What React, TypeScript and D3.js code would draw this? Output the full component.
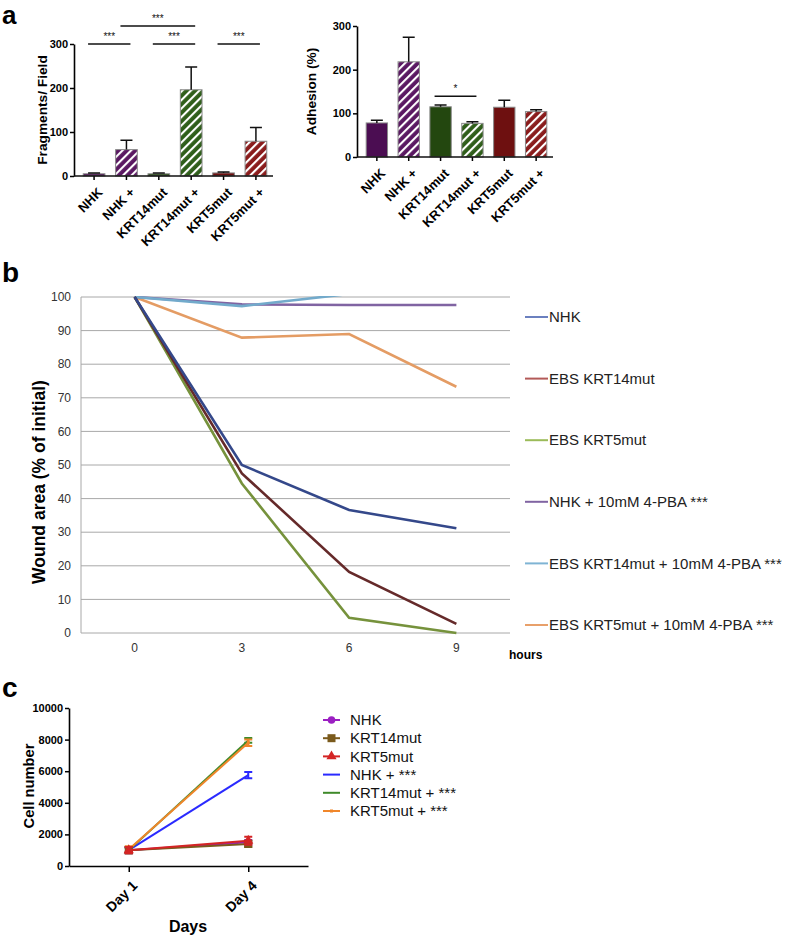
import React, { useRef, useEffect } from 'react';
import * as d3 from 'd3';

const FONT = '"Liberation Sans", Arial, Helvetica, sans-serif';

// ---- panel a: bar charts
const groups = ['NHK', 'NHK +', 'KRT14mut', 'KRT14mut +', 'KRT5mut', 'KRT5mut +'];
const fragments = [5, 60, 5, 196, 7, 79];
const fragmentsErr = [2, 21, 2, 52, 2, 31];
const adhesion = [78, 218, 115, 77, 114, 104];
const adhesionErr = [6, 56, 4, 4, 16, 4];
const barTicks = [0, 100, 200, 300];

// ---- panel b: wound closure
const hours = ['0', '3', '6', '9'];
const woundNames = ['NHK', 'EBS KRT14mut', 'EBS KRT5mut', 'NHK + 10mM 4-PBA ***', 'EBS KRT14mut + 10mM 4-PBA ***', 'EBS KRT5mut + 10mM 4-PBA ***'];
const woundNHK = [100, 50, 36.6, 31.2];
const woundKRT14 = [100, 47.5, 18.2, 2.7];
const woundKRT5 = [100, 44.5, 4.5, 0];
const woundNHKPBA = [100, 97.8, 97.6, 97.6];
const woundKRT14PBA = [100, 97.3, 100.9, 100.9];
const woundKRT5PBA = [100, 87.9, 89, 73.3];
const woundTicks = [0, 10, 20, 30, 40, 50, 60, 70, 80, 90, 100];

// ---- panel c: proliferation
const days = ['Day 1', 'Day 4'];
const cellNames = ['NHK', 'KRT14mut', 'KRT5mut', 'NHK + ***', 'KRT14mut + ***', 'KRT5mut + ***'];
const cellNHK = [1000, 1500];
const cellKRT14 = [1000, 1400];
const cellKRT5 = [1000, 1600];
const cellNHKPlus = [1000, 5750];
const cellKRT14Plus = [1000, 7950];
const cellKRT5Plus = [1050, 7800];
const cellErr = [[200, 150], [200, 200], [200, 250], [150, 200], [150, 150], [200, 200]];
const cellTicks = [0, 2000, 4000, 6000, 8000, 10000];

const barColors = ['#4b0d52', '#5a1862', '#23470f', '#2f5e1a', '#6e1010', '#8a1c1c'];
const woundColors = ['#34488a', '#652a2a', '#76923c', '#8064a2', '#72aacb', '#e49c64'];
const woundLegendColors = ['#6b80bf', '#b35a58', '#9bbb59', '#8064a2', '#7fb4d4', '#e8a06a'];
const cellColors = ['#9b1fc2', '#7a5a1c', '#d42424', '#2a2aff', '#3f8a2a', '#f0862a'];

export default function App() {
  const ref = useRef<SVGSVGElement>(null);

  useEffect(() => {
    const svg = d3.select(ref.current);
    svg.selectAll('*').remove();
    const defs = svg.append('defs');

    // hatch patterns for the "+" bars
    barColors.forEach((c, i) => {
      const p = defs.append('pattern')
        .attr('id', 'hatch' + i)
        .attr('patternUnits', 'userSpaceOnUse')
        .attr('width', 6).attr('height', 6)
        .attr('patternTransform', 'rotate(45)');
      p.append('rect').attr('width', 6).attr('height', 6).attr('fill', c);
      p.append('line').attr('x1', 1).attr('y1', 0).attr('x2', 1).attr('y2', 6)
        .attr('stroke', 'white').attr('stroke-width', 2.2);
    });

    const panelLabel = (t, x, y, size = 28) => svg.append('text')
      .attr('x', x).attr('y', y).attr('font-family', FONT).attr('font-weight', 'bold')
      .attr('font-size', size).text(t);

    // ---------- panel a
    const barPanel = (values, errs, left, right, top, bottom, title, titleX) => {
      const x = d3.scaleBand().domain(groups).range([left + 6, right - 3]).paddingInner(0.33).paddingOuter(0.1);
      const y = d3.scaleLinear().domain([0, 300]).range([bottom, top]);
      const g = svg.append('g');

      g.selectAll('rect.bar').data(groups).join('rect')
        .attr('x', d => x(d))
        .attr('width', x.bandwidth())
        .attr('y', (d, i) => y(values[i]))
        .attr('height', (d, i) => bottom - y(values[i]))
        .attr('fill', (d, i) => (i % 2 ? `url(#hatch${i})` : barColors[i]))
        .attr('stroke', '#8a8a8a').attr('stroke-width', 1);

      // error bars (upper only)
      g.selectAll('path.err').data(groups).join('path')
        .attr('d', (d, i) => {
          const cx = x(d) + x.bandwidth() / 2;
          const y0 = y(values[i]), y1 = y(values[i] + errs[i]);
          return `M${cx},${y0}V${y1}M${cx - 6},${y1}H${cx + 6}`;
        })
        .attr('stroke', '#111').attr('stroke-width', 1.5).attr('fill', 'none');

      const ya = g.append('g').attr('transform', `translate(${left},0)`)
        .call(d3.axisLeft(y).tickValues(barTicks).tickSizeInner(4).tickSizeOuter(0).tickPadding(2));
      ya.select('.domain').attr('stroke-width', 1.6);
      ya.selectAll('.tick line').attr('stroke-width', 1.5);
      ya.selectAll('.tick text').attr('font-family', FONT).attr('font-weight', 'bold').attr('font-size', 11);

      const xa = g.append('g').attr('transform', `translate(0,${bottom})`)
        .call(d3.axisBottom(x).tickSizeInner(4).tickSizeOuter(0));
      xa.select('.domain').remove();
      xa.selectAll('.tick line').attr('stroke-width', 1.5);
      xa.selectAll('.tick text').remove();
      g.append('line').attr('x1', left).attr('x2', right).attr('y1', bottom).attr('y2', bottom)
        .attr('stroke', '#111').attr('stroke-width', 1.6);

      g.selectAll('text.xl').data(groups).join('text')
        .attr('transform', d => `translate(${x(d) + x.bandwidth() / 2 + 6},${bottom + 14}) rotate(-45)`)
        .attr('text-anchor', 'end').attr('dy', '0.35em')
        .attr('font-family', FONT).attr('font-weight', 'bold').attr('font-size', 13)
        .text(d => d);

      g.append('text')
        .attr('transform', `translate(${titleX},${(top + bottom) / 2}) rotate(-90)`)
        .attr('text-anchor', 'middle').attr('font-family', FONT).attr('font-weight', 'bold')
        .attr('font-size', 13.7).text(title);
      return { x, y, g };
    };

    panelLabel('a', 2, 24, 26);
    const left = barPanel(fragments, fragmentsErr, 74, 273, 44, 176, 'Fragments/ Field', 47);
    const right = barPanel(adhesion, adhesionErr, 357, 553, 26, 157, 'Adhesion (%)', 316);

    const mid = (p, d) => p.x(d) + p.x.bandwidth() / 2;
    const sig = (p, a, b, yy, label) => {
      const x1 = mid(p, a) - 6, x2 = mid(p, b) + 4;
      p.g.append('line').attr('x1', x1).attr('x2', x2).attr('y1', yy).attr('y2', yy)
        .attr('stroke', '#111').attr('stroke-width', 1.6);
      p.g.append('text').attr('x', (x1 + x2) / 2).attr('y', yy - 4).attr('text-anchor', 'middle')
        .attr('font-family', FONT).attr('font-size', 10).attr('fill', '#111').text(label);
    };
    sig(left, 'NHK', 'NHK +', left.y(300), '***');
    sig(left, 'KRT14mut', 'KRT14mut +', left.y(300), '***');
    sig(left, 'KRT5mut', 'KRT5mut +', left.y(300), '***');
    sig(left, 'NHK +', 'KRT14mut +', 26, '***');
    sig(right, 'KRT14mut', 'KRT14mut +', right.y(139), '*');

    // ---------- panel b
    panelLabel('b', 2, 282);
    const bx = d3.scaleBand().domain(hours).range([81, 510]);
    const by = d3.scaleLinear().domain([0, 100]).range([633, 297]);
    const gb = svg.append('g');
    gb.selectAll('line.grid').data(woundTicks).join('line')
      .attr('x1', 81).attr('x2', 510).attr('y1', d => by(d)).attr('y2', d => by(d))
      .attr('stroke', '#a8a8a8').attr('stroke-width', 1);
    gb.append('line').attr('x1', 81).attr('x2', 81).attr('y1', by(100)).attr('y2', by(0))
      .attr('stroke', '#a8a8a8');
    gb.selectAll('text.yt').data(woundTicks).join('text')
      .attr('x', 71).attr('y', d => by(d)).attr('dy', '0.35em').attr('text-anchor', 'end')
      .attr('font-family', FONT).attr('font-size', 12).attr('fill', '#333').text(d => d);
    gb.selectAll('text.xt').data(hours).join('text')
      .attr('x', d => bx(d) + bx.bandwidth() / 2).attr('y', 652).attr('text-anchor', 'middle')
      .attr('font-family', FONT).attr('font-size', 12).attr('fill', '#333').text(d => d);
    gb.append('text').attr('x', 509).attr('y', 659).attr('font-family', FONT).attr('font-weight', 'bold')
      .attr('font-size', 12).text('hours');
    gb.append('text').attr('transform', 'translate(45,482) rotate(-90)').attr('text-anchor', 'middle')
      .attr('font-family', FONT).attr('font-weight', 'bold').attr('font-size', 17.5).text('Wound area (% of initial)');

    defs.append('clipPath').attr('id', 'clipb').append('rect')
      .attr('x', 81).attr('y', by(100) - 1).attr('width', 429).attr('height', by(0) - by(100) + 3);
    const woundSeries = [woundNHK, woundKRT14, woundKRT5, woundNHKPBA, woundKRT14PBA, woundKRT5PBA];
    const line = d3.line<number>().x((d, i) => bx(hours[i]) + bx.bandwidth() / 2).y(d => by(d));
    const drawOrder = [5, 3, 4, 2, 1, 0];
    drawOrder.forEach(i => {
      gb.append('path').attr('d', line(woundSeries[i])).attr('fill', 'none')
        .attr('stroke', woundColors[i]).attr('stroke-width', 2.6).attr('clip-path', 'url(#clipb)');
    });
    woundNames.forEach((n, i) => {
      const yy = 317 + i * 61.6;
      gb.append('line').attr('x1', 525).attr('x2', 548).attr('y1', yy).attr('y2', yy)
        .attr('stroke', woundLegendColors[i]).attr('stroke-width', 2);
      gb.append('text').attr('x', 549).attr('y', yy).attr('dy', '0.35em')
        .attr('font-family', FONT).attr('font-size', 15).attr('fill', '#222').text(n);
    });

    // ---------- panel c
    panelLabel('c', 2, 697);
    const cx = d3.scalePoint().domain(days).range([69, 308]).padding(0.5);
    const cy = d3.scaleLinear().domain([0, 10000]).range([866, 708]);
    const gc = svg.append('g');
    const cyA = gc.append('g').attr('transform', 'translate(69,0)')
      .call(d3.axisLeft(cy).tickValues(cellTicks).tickFormat(d3.format('d')).tickSizeInner(4).tickSizeOuter(0).tickPadding(2));
    cyA.select('.domain').attr('stroke-width', 1.6);
    cyA.selectAll('.tick line').attr('stroke-width', 1.5);
    cyA.selectAll('.tick text').attr('font-family', FONT).attr('font-weight', 'bold').attr('font-size', 11);
    const cxA = gc.append('g').attr('transform', 'translate(0,866)')
      .call(d3.axisBottom(cx).tickSizeInner(6).tickSizeOuter(0));
    cxA.select('.domain').attr('stroke-width', 1.6);
    cxA.selectAll('.tick line').attr('stroke-width', 1.5);
    cxA.selectAll('.tick text').remove();
    gc.selectAll('text.dl').data(days).join('text')
      .attr('transform', d => `translate(${cx(d) + 6},${866 + 17}) rotate(-45)`)
      .attr('text-anchor', 'end').attr('dy', '0.35em')
      .attr('font-family', FONT).attr('font-weight', 'bold').attr('font-size', 14).text(d => d);
    gc.append('text').attr('x', 188).attr('y', 932).attr('text-anchor', 'middle')
      .attr('font-family', FONT).attr('font-weight', 'bold').attr('font-size', 16).text('Days');
    gc.append('text').attr('transform', 'translate(34,786) rotate(-90)').attr('text-anchor', 'middle')
      .attr('font-family', FONT).attr('font-weight', 'bold').attr('font-size', 14.7).text('Cell number');

    const cellSeries = [cellNHK, cellKRT14, cellKRT5, cellNHKPlus, cellKRT14Plus, cellKRT5Plus];
    const cline = d3.line<number>().x((d, i) => cx(days[i])).y(d => cy(d));
    const marker = (g, i, x, y) => {
      const c = cellColors[i];
      if (i === 0) g.append('circle').attr('cx', x).attr('cy', y).attr('r', 3.8).attr('fill', c);
      else if (i === 1) g.append('rect').attr('x', x - 4).attr('y', y - 4).attr('width', 8).attr('height', 8).attr('fill', c);
      else if (i === 2) g.append('path').attr('d', d3.symbol(d3.symbolTriangle, 45)()).attr('transform', `translate(${x},${y})`).attr('fill', c);
      else if (i === 5) g.append('rect').attr('x', x - 1.5).attr('y', y - 1.5).attr('width', 3).attr('height', 3).attr('fill', c);
    };
    [3, 4, 5, 0, 1, 2].forEach(i => {
      const s = cellSeries[i];
      gc.append('path').attr('d', cline(s)).attr('fill', 'none').attr('stroke', cellColors[i]).attr('stroke-width', 2);
      s.forEach((v, j) => {
        const px = cx(days[j]);
        const e = cellErr[i][j];
        gc.append('path')
          .attr('d', `M${px},${cy(v - e)}V${cy(v + e)}M${px - 4},${cy(v - e)}H${px + 4}M${px - 4},${cy(v + e)}H${px + 4}`)
          .attr('stroke', cellColors[i]).attr('stroke-width', 2).attr('fill', 'none');
        marker(gc, i, px, cy(v));
      });
    });
    cellNames.forEach((n, i) => {
      const yy = 720 + i * 18.2;
      gc.append('line').attr('x1', 323).attr('x2', 340).attr('y1', yy).attr('y2', yy)
        .attr('stroke', cellColors[i]).attr('stroke-width', 2);
      marker(gc, i, 331.5, yy);
      gc.append('text').attr('x', 350).attr('y', yy).attr('dy', '0.35em')
        .attr('font-family', FONT).attr('font-size', 15).attr('fill', '#111').text(n);
    });
  }, []);

  return (
    <svg ref={ref} width={790} height={937}
      style={{ position: 'absolute', left: 0, top: 0, background: 'white' }} />
  );
}
